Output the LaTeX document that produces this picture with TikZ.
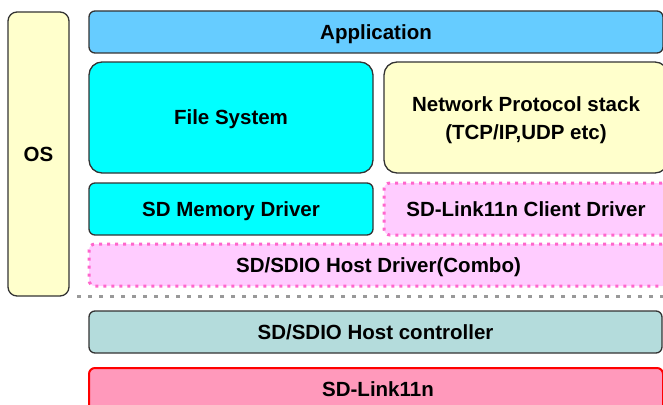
\documentclass[tikz,border=0pt]{standalone}
\usepackage{fontspec}
\setmainfont{Liberation Sans}
\usepackage{tikz}
\usetikzlibrary{arrows}

\definecolor{osyellow}{HTML}{FFFFCC}
\definecolor{appblue}{HTML}{66CCFF}
\definecolor{fscyan}{HTML}{00FFFF}
\definecolor{drvpink}{HTML}{FFCCFF}
\definecolor{drvedge}{HTML}{FF66CC}
\definecolor{hostteal}{HTML}{B4DCDC}
\definecolor{linkpink}{HTML}{FF99BB}

\begin{document}
\begin{tikzpicture}[x=1pt,y=-1pt,font=\fontsize{20.5}{28}\selectfont\bfseries]
  \tikzstyle{layer}=[draw=black!80,line width=1.3pt,rounded corners=6pt,align=center,inner sep=0pt,text height=14.7pt,text depth=0pt]
  \tikzstyle{soft}=[draw=drvedge,line width=3pt,dash pattern=on 3pt off 5pt,fill=drvpink,align=center,inner sep=0pt,rounded corners=6pt,text height=14.7pt,text depth=0pt]

  \clip (0,0) rectangle (663,404);

  \node[layer,fill=osyellow,rounded corners=9pt,minimum width=61pt,minimum height=284pt] (OS) at (38.5,154) {OS};

  \node[layer,fill=appblue,minimum width=574pt,minimum height=42pt] (app) at (376,32) {Application};
  \node[layer,fill=fscyan,rounded corners=13pt,minimum width=284pt,minimum height=111pt] (fs) at (231,117.5) {File System};
  \node[layer,fill=osyellow,rounded corners=13pt,minimum width=284pt,minimum height=111pt] (net) at (526,117.5) {};
  \node[align=center] (nettxt) at (526,120) {Network Protocol stack\\(TCP/IP,UDP etc)};
  \node[layer,fill=fscyan,minimum width=284pt,minimum height=52pt] (mem) at (231,209) {SD Memory Driver};
  \node[soft,minimum width=284pt,minimum height=52pt] (client) at (526,209) {SD-Link11n Client Driver};
  \node[soft,minimum width=579pt,minimum height=42pt] (host) at (378.5,265) {SD/SDIO Host Driver(Combo)};

  \coordinate (sepL) at (77,296);
  \coordinate (sepR) at (663,296);
  \draw[black!40,line width=3pt,dash pattern=on 4pt off 7pt] (sepL) -- (sepR);

  \node[layer,fill=hostteal,minimum width=573pt,minimum height=42pt] (ctrl) at (375.5,332) {SD/SDIO Host controller};
  \node[layer,draw=red,line width=2pt,fill=linkpink,minimum width=574pt,minimum height=44pt] (link) at (376,390) {};
  \node[text height=14.7pt,text depth=0pt] (linktxt) at (378,389) {SD-Link11n};
\end{tikzpicture}
\end{document}
